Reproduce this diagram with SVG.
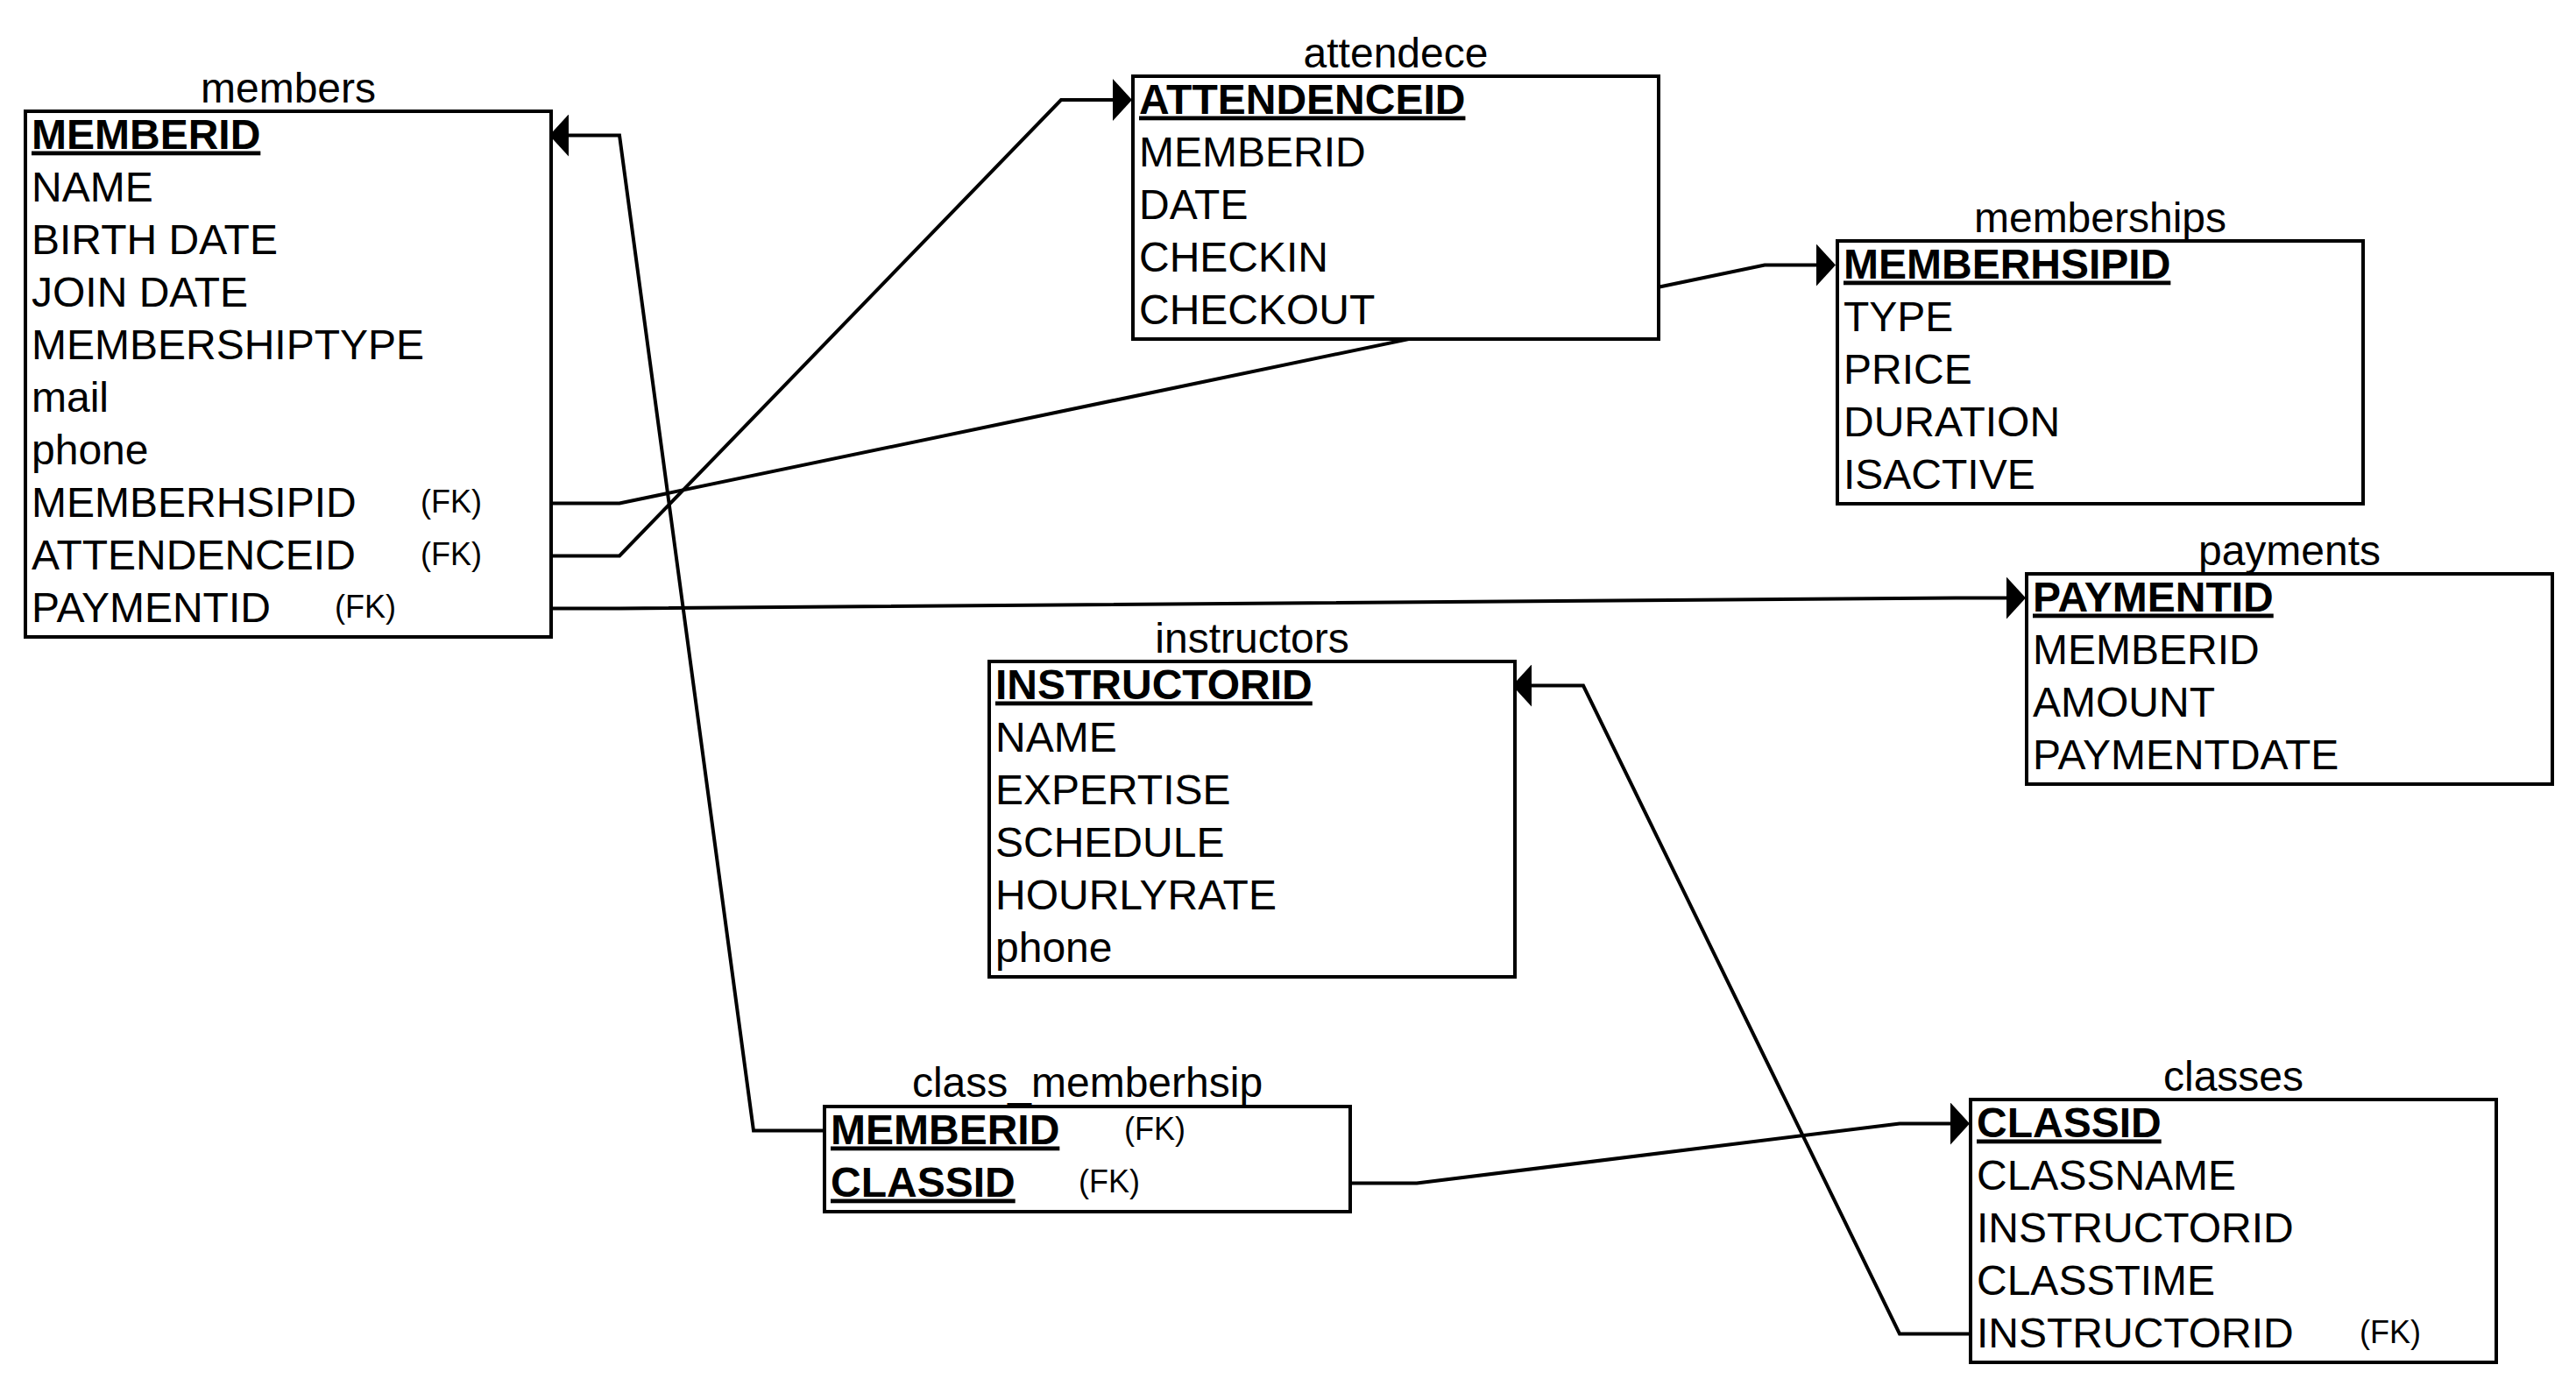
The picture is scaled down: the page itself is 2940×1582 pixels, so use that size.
<svg xmlns="http://www.w3.org/2000/svg" width="2940" height="1582" viewBox="0 0 2940 1582">
<style>
text { font-family: "Liberation Sans", Arial, Helvetica, sans-serif; font-size: 48px; fill: #000; }
.k { font-weight: bold; text-decoration: underline; text-underline-offset: 7px; }
.fk { font-size: 36px; }
.ttl { text-anchor: middle; }
.box { fill: #fff; stroke: #000; stroke-width: 4; }
.conn { fill: none; stroke: #000; stroke-width: 4; marker-end: url(#arrow); }
</style>
<defs>
<marker id="arrow" markerUnits="userSpaceOnUse" viewBox="0 0 22 48" refX="0" refY="24" markerWidth="22" markerHeight="48" orient="auto">
<path d="M0,0 L22,24 L0,48 Z" fill="#000"/>
</marker>
</defs>
<rect x="0" y="0" width="2940" height="1582" fill="#fff"/>
<g id="connectors">
<path id="c-membership" class="conn" d="M629,574.5 H707 L2014,302.5 H2073"/>
<path id="c-attendance" class="conn" d="M629,634.5 H707 L1211,114 H1270"/>
<path id="c-payment" class="conn" d="M629,694.5 H707 L2232,682.5 H2290"/>
<path id="c-member" class="conn" d="M941,1290.5 H860 L707,154.5 H649"/>
<path id="c-class" class="conn" d="M1541,1350.5 H1617 L2168,1282.5 H2226"/>
<path id="c-instructor" class="conn" d="M2249,1522.5 H2168 L1807,782.5 H1748"/>
</g>
<g id="members" transform="translate(29,127)">
<rect class="box" x="0" y="0" width="600" height="600"/>
<text class="ttl" x="300" y="-10">members</text>
<text class="k" x="7" y="42.5">MEMBERID</text>
<text x="7" y="102.5">NAME</text>
<text x="7" y="162.5">BIRTH DATE</text>
<text x="7" y="222.5">JOIN DATE</text>
<text x="7" y="282.5">MEMBERSHIPTYPE</text>
<text x="7" y="342.5">mail</text>
<text x="7" y="402.5">phone</text>
<text x="7" y="462.5">MEMBERHSIPID</text>
<text class="fk" x="451" y="458">(FK)</text>
<text x="7" y="522.5">ATTENDENCEID</text>
<text class="fk" x="451" y="518">(FK)</text>
<text x="7" y="582.5">PAYMENTID</text>
<text class="fk" x="353" y="578">(FK)</text>
</g>
<g id="attendece" transform="translate(1293,87)">
<rect class="box" x="0" y="0" width="600" height="300"/>
<text class="ttl" x="300" y="-10">attendece</text>
<text class="k" x="7" y="42.5">ATTENDENCEID</text>
<text x="7" y="102.5">MEMBERID</text>
<text x="7" y="162.5">DATE</text>
<text x="7" y="222.5">CHECKIN</text>
<text x="7" y="282.5">CHECKOUT</text>
</g>
<g id="memberships" transform="translate(2097,275)">
<rect class="box" x="0" y="0" width="600" height="300"/>
<text class="ttl" x="300" y="-10">memberships</text>
<text class="k" x="7" y="42.5">MEMBERHSIPID</text>
<text x="7" y="102.5">TYPE</text>
<text x="7" y="162.5">PRICE</text>
<text x="7" y="222.5">DURATION</text>
<text x="7" y="282.5">ISACTIVE</text>
</g>
<g id="payments" transform="translate(2313,655)">
<rect class="box" x="0" y="0" width="600" height="240"/>
<text class="ttl" x="300" y="-10">payments</text>
<text class="k" x="7" y="42.5">PAYMENTID</text>
<text x="7" y="102.5">MEMBERID</text>
<text x="7" y="162.5">AMOUNT</text>
<text x="7" y="222.5">PAYMENTDATE</text>
</g>
<g id="instructors" transform="translate(1129,755)">
<rect class="box" x="0" y="0" width="600" height="360"/>
<text class="ttl" x="300" y="-10">instructors</text>
<text class="k" x="7" y="42.5">INSTRUCTORID</text>
<text x="7" y="102.5">NAME</text>
<text x="7" y="162.5">EXPERTISE</text>
<text x="7" y="222.5">SCHEDULE</text>
<text x="7" y="282.5">HOURLYRATE</text>
<text x="7" y="342.5">phone</text>
</g>
<g id="class_memberhsip" transform="translate(941,1263)">
<rect class="box" x="0" y="0" width="600" height="120"/>
<text class="ttl" x="300" y="-11">class_memberhsip</text>
<text class="k" x="7" y="42.5">MEMBERID</text>
<text class="fk" x="342" y="38">(FK)</text>
<text class="k" x="7" y="102.5">CLASSID</text>
<text class="fk" x="290" y="98">(FK)</text>
</g>
<g id="classes" transform="translate(2249,1255)">
<rect class="box" x="0" y="0" width="600" height="300"/>
<text class="ttl" x="300" y="-10">classes</text>
<text class="k" x="7" y="42.5">CLASSID</text>
<text x="7" y="102.5">CLASSNAME</text>
<text x="7" y="162.5">INSTRUCTORID</text>
<text x="7" y="222.5">CLASSTIME</text>
<text x="7" y="282.5">INSTRUCTORID</text>
<text class="fk" x="444" y="278">(FK)</text>
</g>
</svg>
